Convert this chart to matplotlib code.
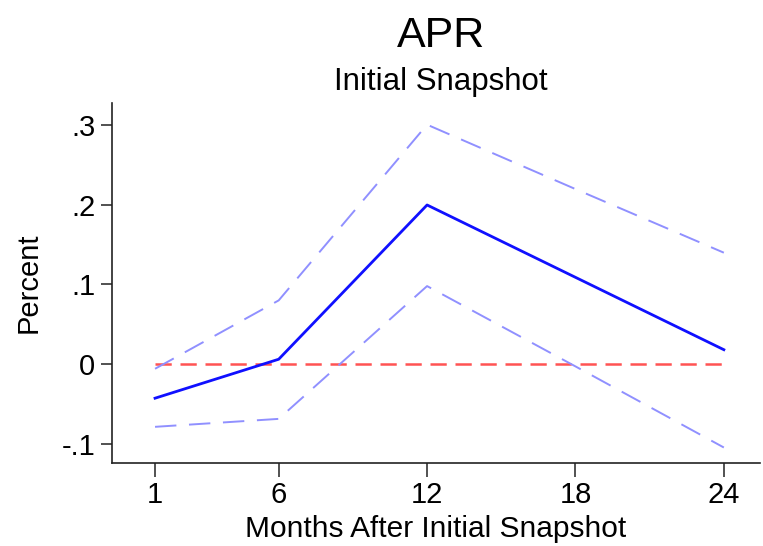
import matplotlib
matplotlib.use("Agg")
import matplotlib.pyplot as plt

months = [1, 6, 12, 18, 24]
estimate = [-0.043, 0.006, 0.200, 0.109, 0.018]
upper_ci = [-0.006, 0.080, 0.301, 0.220, 0.140]
lower_ci = [-0.079, -0.069, 0.098, -0.003, -0.105]
zero_line = [0, 0, 0, 0, 0]
y_ticks = [-0.1, 0, 0.1, 0.2, 0.3]
y_tick_labels = ["-.1", "0", ".1", ".2", ".3"]

plt.rcParams['font.family'] = ['Liberation Sans', 'DejaVu Sans']

fig = plt.figure(figsize=(7.63, 5.46), dpi=100)
ax = fig.add_axes([0.1468, 0.152, 0.996 - 0.1468, 0.811 - 0.152])

ax.plot(months, zero_line, color='#ff4040', lw=1.8, dashes=(6.5, 3.5), alpha=0.9)
ax.plot(months, upper_ci, color='#9090ff', lw=1.4, dashes=(11, 6.5))
ax.plot(months, lower_ci, color='#9090ff', lw=1.4, dashes=(11, 6.5))
ax.plot(months, estimate, color='#1010ff', lw=2.0)

ax.set_xlim(-0.74, 25.46)
ax.set_ylim(-0.1245, 0.328)
ax.set_xticks(months)
ax.set_xticklabels([str(m) for m in months])
ax.set_yticks(y_ticks)
ax.set_yticklabels(y_tick_labels)

for s in ['top', 'right']:
    ax.spines[s].set_visible(False)
for s in ['left', 'bottom']:
    ax.spines[s].set_color('#222222')
    ax.spines[s].set_linewidth(1.2)
ax.tick_params(axis='both', direction='out', width=1.2, color='#333333',
               labelsize=21)
ax.tick_params(axis='x', length=10, pad=3)
ax.tick_params(axis='y', length=8, pad=4)

ax.set_xlabel("Months After Initial Snapshot", fontsize=21.5, labelpad=4)
ax.set_ylabel("Percent", fontsize=21, labelpad=14)

fig.text(0.578, 0.914, "APR", fontsize=31, ha='center', va='baseline')
fig.text(0.578, 0.835, "Initial Snapshot", fontsize=22.5, ha='center', va='baseline')

fig.savefig("out.png", dpi=100)
